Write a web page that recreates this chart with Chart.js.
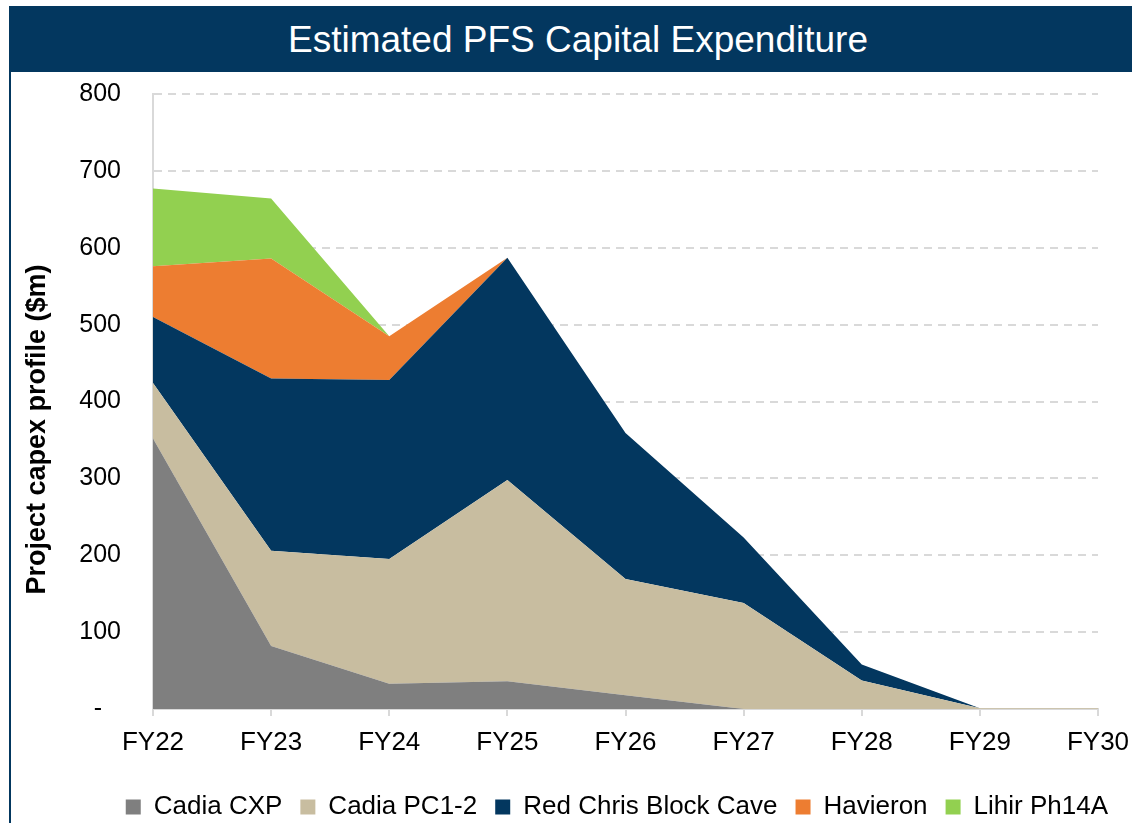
<!DOCTYPE html>
<html>
<head>
<meta charset="utf-8">
<script src="https://cdn.jsdelivr.net/npm/chart.js@4.4.1/dist/chart.umd.min.js"></script>
<style>
    html, body { margin: 0; padding: 0; background: #ffffff; overflow: hidden; width: 1132px; height: 823px; }
    #frame { position: absolute; left: 9px; top: 6px; width: 1140px; height: 830px; border-left: 2px solid #03375f; }
    #title-bar {
        position: absolute; left: 9px; top: 6px; width: 1138px; height: 66px;
        background: #03375f; color: #ffffff;
        font-family: "Liberation Sans", Arial, sans-serif; font-size: 37px;
        line-height: 68px; text-align: center;
    }
    #chart-box { position: absolute; left: 0; top: 72px; }
</style>
</head>
<body>
<div id="frame"></div>
<div id="title-bar">Estimated PFS Capital Expenditure</div>
<div id="chart-box"><canvas id="capex-chart" width="1132" height="766"></canvas></div>

<script>
// estimated PFS capex profile by project ($m)

const YEARS = ['FY22', 'FY23', 'FY24', 'FY25', 'FY26', 'FY27', 'FY28', 'FY29', 'FY30'];

const CADIA_CXP = [352, 82, 33, 36, 18, 0, 0, 0, 0];
const CADIA_PC12 = [72, 124, 162, 262, 151, 138, 37, 1, 1];
const RED_CHRIS = [86, 224, 233, 289, 190, 85, 21, 0, 0];
const HAVIERON = [66, 156, 57, 0, 0, 0, 0, 0, 0];
const LIHIR = [101, 78, 0, 0, 0, 0, 0, 0, 0];

const SERIES_NAMES = ['Cadia CXP', 'Cadia PC1-2', 'Red Chris Block Cave', 'Havieron', 'Lihir Ph14A'];

const Y_TICKS = [0, 100, 200, 300, 400, 500, 600, 700, 800];
const Y_TITLE = 'Project capex profile ($m)';

// colours
const COLOR_GREY = '#7f7f7f';
const COLOR_TAN = '#c8bda0';
const COLOR_NAVY = '#03375f';
const COLOR_ORANGE = '#ed7d31';
const COLOR_GREEN = '#92d050';
const COLOR_GRID = '#d9d9d9';

const FONT_FAMILY = '"Liberation Sans", Arial, sans-serif';


// one filled area per project, each stacked on the one before
function makeArea(label, values, color, index) {
    return {
        label: label,
        data: values,
        backgroundColor: color,
        borderColor: color,
        borderWidth: 0,
        pointRadius: 0,
        tension: 0,
        fill: index === 0 ? 'origin' : '-1'
    };
}


// rotated y axis title, placed like the original (a bit below centre)
const yTitlePlugin = {
    id: 'yTitle',
    afterDraw(chart) {
        const ctx = chart.ctx;
        const area = chart.chartArea;
        ctx.save();
        ctx.translate(38, (area.top + area.bottom) / 2 + 28);
        ctx.rotate(-Math.PI / 2);
        ctx.font = 'bold 27px ' + FONT_FAMILY;
        ctx.fillStyle = '#000000';
        ctx.textAlign = 'center';
        ctx.textBaseline = 'middle';
        ctx.fillText(Y_TITLE, 0, 0);
        ctx.restore();
    }
};


const ctx = document.getElementById('capex-chart').getContext('2d');
new Chart(ctx, {
    type: 'line',
    data: {
        labels: YEARS,
        datasets: [
            makeArea(SERIES_NAMES[0], CADIA_CXP, COLOR_GREY, 0),
            makeArea(SERIES_NAMES[1], CADIA_PC12, COLOR_TAN, 1),
            makeArea(SERIES_NAMES[2], RED_CHRIS, COLOR_NAVY, 2),
            makeArea(SERIES_NAMES[3], HAVIERON, COLOR_ORANGE, 3),
            makeArea(SERIES_NAMES[4], LIHIR, COLOR_GREEN, 4)
        ]
    },
    plugins: [yTitlePlugin],
    options: {
        responsive: false,
        animation: false,
        devicePixelRatio: 1,
        layout: {
            padding: { top: 22, right: 6, bottom: 8, left: 0 }
        },
        plugins: {
            tooltip: { enabled: false },
            legend: {
                position: 'bottom',
                align: 'end',
                labels: {
                    color: '#000000',
                    font: { family: FONT_FAMILY, size: 26 },
                    boxWidth: 15,
                    boxHeight: 15,
                    padding: 18
                }
            }
        },
        scales: {
            x: {
                offset: false,
                grid: {
                    drawOnChartArea: false,
                    drawTicks: true,
                    tickLength: 7,
                    color: COLOR_GRID,
                    lineWidth: 2
                },
                border: { display: true, color: COLOR_GRID, width: 2 },
                ticks: {
                    color: '#000000',
                    font: { family: FONT_FAMILY, size: 26 },
                    padding: 11,
                    maxRotation: 0
                },
                afterFit: function(scale) {
                    scale.height = 67;
                    scale.paddingLeft = 0;
                    // room on the right so the plot stops at FY30 while the legend runs a bit further
                    scale.paddingRight = 34;
                }
            },
            y: {
                stacked: true,
                min: Y_TICKS[0],
                max: Y_TICKS[Y_TICKS.length - 1],
                afterBuildTicks: function(scale) {
                    scale.ticks = Y_TICKS.map(function(v) { return { value: v }; });
                },
                grid: {
                    drawTicks: false,
                    lineWidth: 2,
                    color: function(c) {
                        // the zero line is the x axis itself
                        return c.tick && c.tick.value === 0 ? 'rgba(0,0,0,0)' : COLOR_GRID;
                    }
                },
                border: { display: true, color: COLOR_GRID, width: 2, dash: [8, 6] },
                ticks: {
                    color: '#000000',
                    font: { family: FONT_FAMILY, size: 25 },
                    padding: 32,
                    callback: function(value) {
                        return value === 0 ? '-  \u2009' : value;
                    }
                },
                afterFit: function(scale) {
                    scale.width = 153;
                    scale.paddingTop = 0;
                    scale.paddingBottom = 0;
                }
            }
        }
    }
});
</script>
</body>
</html>
